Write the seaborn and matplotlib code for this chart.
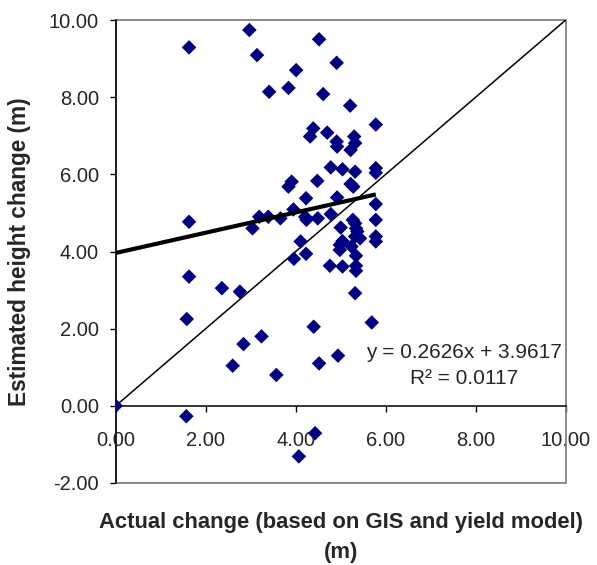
import matplotlib
matplotlib.use("Agg")
import matplotlib.pyplot as plt
import seaborn as sns
import pandas as pd
import numpy as np
from matplotlib.patches import Rectangle

# Observed stand height change: actual (GIS + yield model) vs estimated
actual_change = [
    1.63, 2.97, 3.14, 4.01, 3.41, 3.84, 4.52, 4.91, 4.61, 5.21,
    5.78, 4.39, 4.32, 4.70, 4.91, 4.92, 5.30, 5.32, 5.22, 4.78,
    5.04, 5.32, 5.22, 5.28, 5.78, 5.78, 3.91, 3.84, 4.48, 4.23,
    4.92, 5.78, 3.95, 3.19, 3.39, 3.66, 3.04, 4.21, 4.24, 4.49,
    4.78, 5.00, 5.27, 5.32, 5.34, 5.37, 5.78, 5.78, 5.78, 5.43,
    5.32, 5.04, 4.98, 4.98, 5.24, 4.11, 4.23, 3.96, 5.34, 4.76,
    5.04, 5.34, 5.34, 5.32, 5.69, 1.63, 1.63, 1.58, 2.36, 2.76,
    4.40, 3.24, 2.84, 2.60, 3.57, 4.52, 4.94, 0.00, 1.57, 4.07,
    4.43,
]
estimated_change = [
    9.29, 9.74, 9.09, 8.70, 8.14, 8.24, 9.50, 8.89, 8.08, 7.78,
    7.29, 7.19, 6.98, 7.08, 6.85, 6.72, 6.98, 6.81, 6.63, 6.18,
    6.13, 6.07, 5.75, 5.68, 6.16, 6.04, 5.81, 5.68, 5.83, 5.38,
    5.40, 5.23, 5.09, 4.90, 4.90, 4.86, 4.60, 4.90, 4.82, 4.86,
    4.97, 4.62, 4.82, 4.73, 4.60, 4.52, 4.82, 4.39, 4.26, 4.34,
    4.39, 4.27, 4.17, 4.04, 4.13, 4.26, 3.94, 3.81, 3.89, 3.63,
    3.61, 3.63, 3.50, 2.92, 2.16, 4.77, 3.35, 2.25, 3.05, 2.96,
    2.05, 1.80, 1.60, 1.04, 0.80, 1.10, 1.30, 0.00, -0.27, -1.31,
    -0.71,
]

# Linear trend reported for the data
trend_slope = 0.2626
trend_intercept = 3.9617
r_squared = 0.0117

x_ticks = [0, 2, 4, 6, 8, 10]
y_ticks = [-2, 0, 2, 4, 6, 8, 10]

df = pd.DataFrame({"actual": actual_change, "estimated": estimated_change})

sns.set_style("white")
plt.rcParams["font.family"] = ["Liberation Sans", "DejaVu Sans"]

fig = plt.figure(figsize=(5.97, 5.65), dpi=100)
ax = fig.add_axes([115.7 / 597, 1 - 483 / 565, 450 / 597, 463 / 565])

# 1:1 reference line
ax.plot([0, 10], [0, 10], color="black", lw=1.1, zorder=2)

sns.scatterplot(data=df, x="actual", y="estimated", marker="D", s=55,
                color="#000080", edgecolor="none", linewidth=0, ax=ax,
                zorder=3)

# fitted trend over the observed range
xt = np.array([0.0, max(actual_change)])
ax.plot(xt, trend_slope * xt + trend_intercept, color="black", lw=3.0,
        zorder=4, solid_capstyle="butt")

ax.set_xlim(0, 10)
ax.set_ylim(-2, 10)
ax.set_xticks(x_ticks)
ax.set_yticks(y_ticks)
ax.set_xticklabels([f"{v:.2f}" for v in x_ticks])
ax.set_yticklabels([f"{v:.2f}" for v in y_ticks])

# grey plot-area border, black axis lines crossing at the origin
ax.add_patch(Rectangle((0, 0), 1, 1, transform=ax.transAxes, fill=False,
                       edgecolor="#808080", lw=1.3, zorder=1, clip_on=False))
for side in ["top", "right"]:
    ax.spines[side].set_visible(False)
ax.spines["bottom"].set_position(("data", 0))
ax.spines["bottom"].set_color("black")
ax.spines["left"].set_color("black")
ax.spines["bottom"].set_linewidth(1.1)
ax.spines["left"].set_linewidth(1.1)
ax.spines["bottom"].set_zorder(2)

ax.tick_params(axis="x", direction="out", length=4.5, width=1, color="black",
               pad=13.5, labelsize=14.5, bottom=True)
ax.tick_params(axis="y", direction="out", length=4.5, width=1, color="black",
               pad=7.5, labelsize=14.5, left=True)

ax.set_xlabel("Actual change (based on GIS and yield model)\n(m)",
              fontsize=15.8, fontweight="bold", linespacing=1.55)
ax.xaxis.set_label_coords(0.5, -0.117)
ax.xaxis.label.set_va("center")
ax.set_ylabel("Estimated height change (m)", fontsize=16.3, fontweight="bold")
ax.yaxis.set_label_coords(-0.213, 0.5)
ax.yaxis.label.set_va("center")

ax.text(7.75, 1.05,
        f"y = {trend_slope:.4f}x + {trend_intercept:.4f}\nR² = {r_squared:.4f}",
        ha="center", va="center", multialignment="center", fontsize=15,
        linespacing=1.45, zorder=5)

fig.savefig("out.png", dpi=100)
